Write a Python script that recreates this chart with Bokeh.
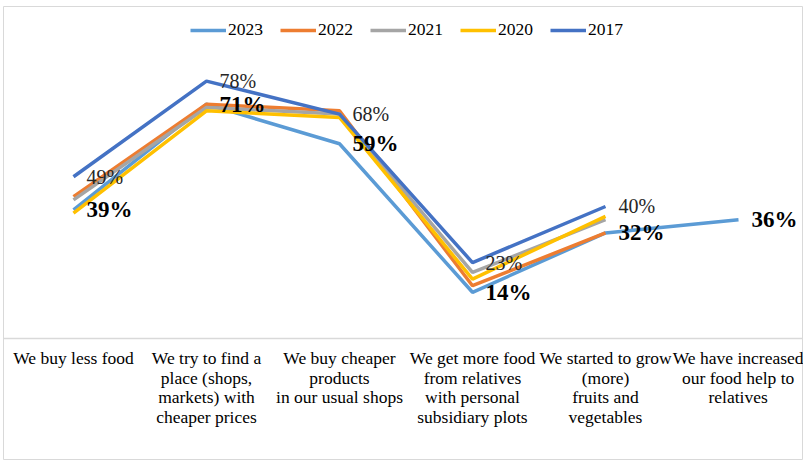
from bokeh.plotting import figure
from bokeh.models import Legend, LegendItem, FixedTicker, Range1d, ColumnDataSource
from bokeh.core.properties import value
from bokeh.embed import file_html
from bokeh.resources import INLINE

categories = [
    "We buy less food",
    "We try to find a\nplace (shops,\nmarkets) with\ncheaper prices",
    "We buy cheaper\nproducts\nin our usual shops",
    "We get more food\nfrom relatives\nwith personal\nsubsidiary plots",
    "We started to grow\n(more)\nfruits and\nvegetables",
    "We have increased\nour food help to\nrelatives",
]
years = ["2023", "2022", "2021", "2020", "2017"]
v2023 = [39, 71, 59, 14, 32, 36]
v2022 = [43, 71, 69, 16, 32]
v2021 = [42, 70, 68, 20, 36]
v2020 = [38, 69, 67, 18, 37]
v2017 = [49, 78, 68, 23, 40]
series = [v2023, v2022, v2021, v2020, v2017]
colors = ["#5B9BD5", "#ED7D31", "#A5A5A5", "#FFC000", "#4472C4"]

FONT = "Liberation Serif"

p = figure(width=803, height=460, output_backend="svg", toolbar_location=None,
           x_range=Range1d(-0.5263, 5.4887), y_range=Range1d(-36.97, 100.6),
           y_axis_location=None, min_border_left=3, min_border_right=0,
           min_border_top=6, min_border_bottom=0)
p.xgrid.visible = False
p.ygrid.visible = False
p.outline_line_color = "#d9d9d9"
p.outline_line_width = 1

xa = p.xaxis[0]
xa.fixed_location = 0
xa.ticker = FixedTicker(ticks=list(range(len(categories))))
xa.major_label_overrides = {i: c for i, c in enumerate(categories)}
xa.major_label_text_font = FONT
xa.major_label_text_font_size = "17.5px"
xa.major_label_text_color = "#000000"
xa.major_label_text_line_height = 0.97
xa.major_label_standoff = 4
xa.major_tick_line_color = None
xa.minor_tick_line_color = None
xa.axis_line_color = "#d9d9d9"
xa.axis_line_width = 1.5

renderers = []
for yr, vals, c in zip(years, series, colors):
    r = p.line(list(range(len(vals))), vals, line_color=c, line_width=3.5)
    renderers.append(r)

# data labels
src17 = ColumnDataSource(dict(x=list(range(len(v2017))), y=v2017,
                              t=[f"{v}%" for v in v2017]))
p.text("x", "y", text="t", source=src17, x_offset=13, text_baseline="middle",
       text_align="left", text_font=value(FONT), text_font_size="20px",
       text_color="#262626")
src23 = ColumnDataSource(dict(x=list(range(len(v2023))), y=v2023,
                              t=[f"{v}%" for v in v2023]))
p.text("x", "y", text="t", source=src23, x_offset=13, text_baseline="middle",
       text_align="left", text_font=value(FONT), text_font_size="23px",
       text_font_style="bold", text_color="#000000")

legend = Legend(items=[LegendItem(label=yr, renderers=[r]) for yr, r in zip(years, renderers)],
                orientation="horizontal", location=(187, 420))
legend.glyph_width = 36
legend.glyph_height = 20
legend.label_standoff = 2
legend.spacing = 17
legend.padding = 0
legend.margin = 0
legend.border_line_color = None
legend.background_fill_alpha = 0
legend.label_text_font = FONT
legend.label_text_font_size = "17.5px"
legend.label_text_color = "#000000"
p.add_layout(legend)

open("out.html", "w").write(file_html(p, INLINE))
